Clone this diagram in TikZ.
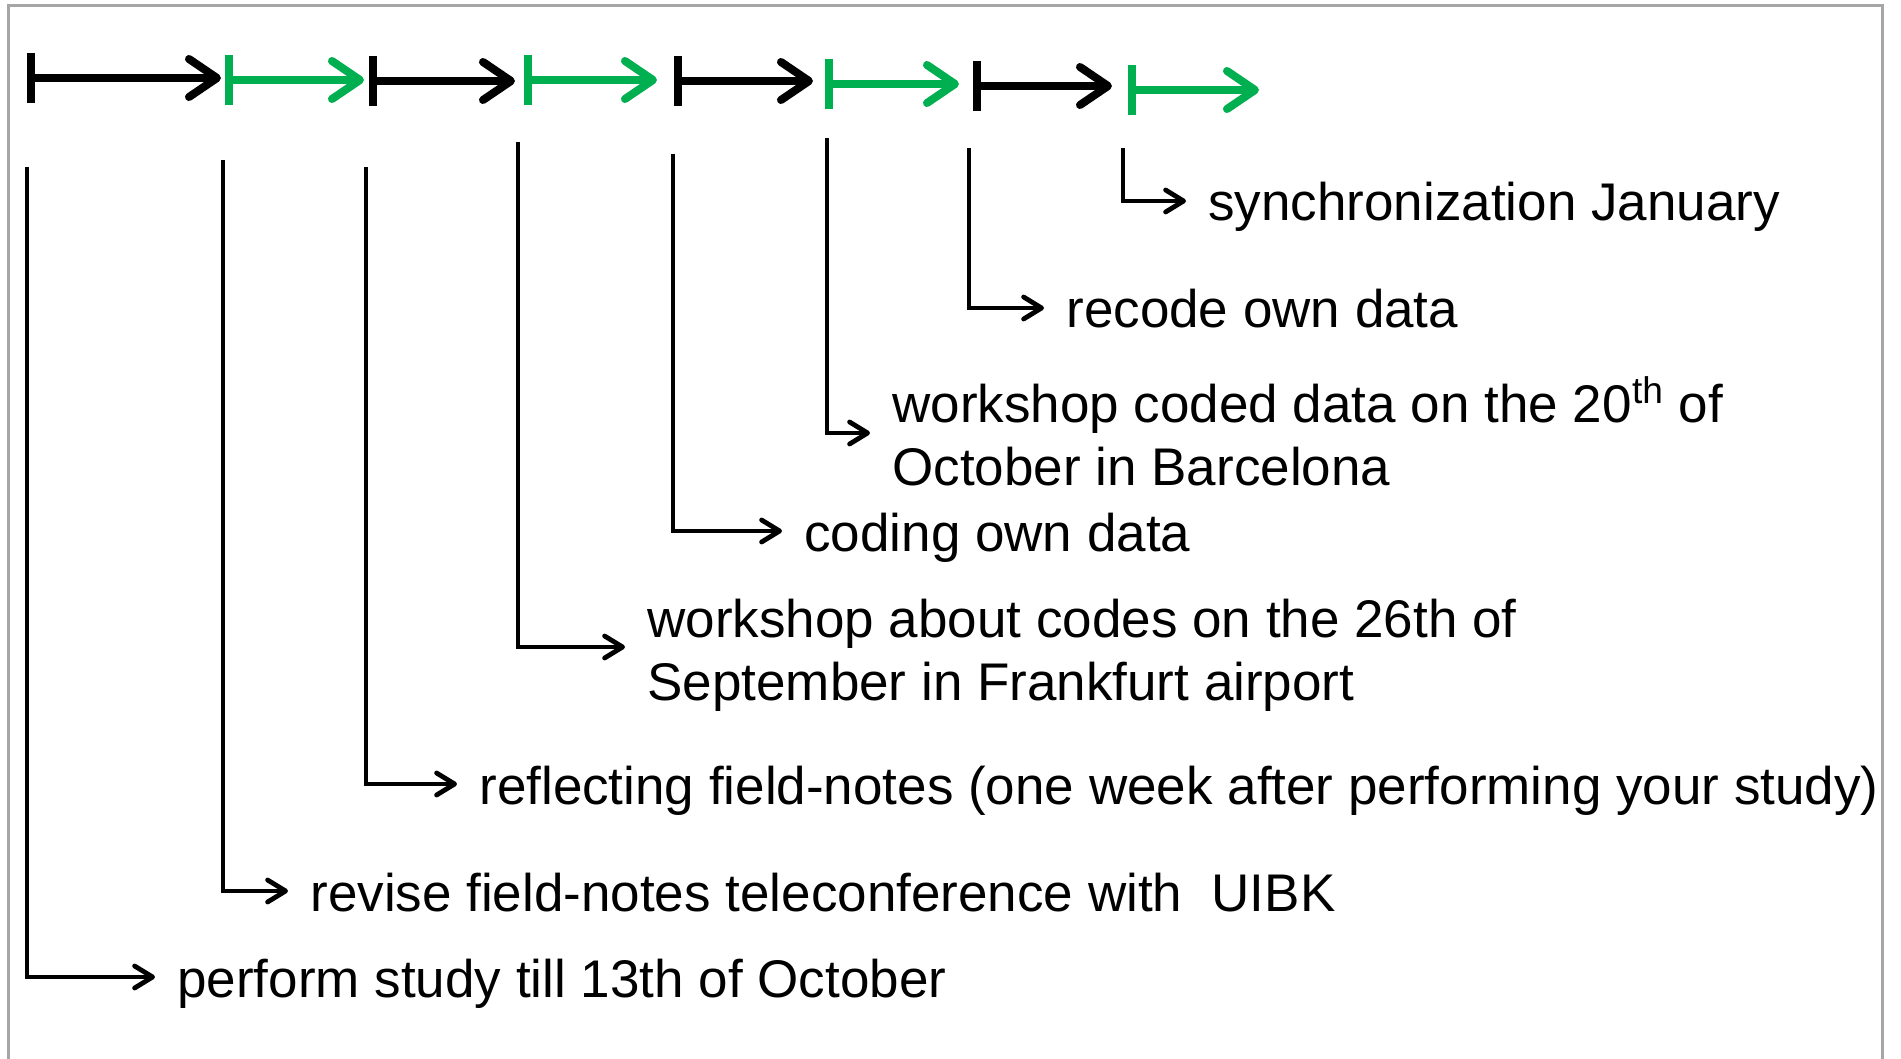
\documentclass[tikz,border=0pt]{standalone}
\usepackage{fontspec}
\setmainfont{Liberation Sans}
\usetikzlibrary{arrows.meta}
\definecolor{tlgreen}{HTML}{00B050}
\definecolor{framegray}{HTML}{A6A6A6}
\begin{document}
\begin{tikzpicture}[x=0.5pt,y=-0.5pt,
  seg/.style={line width=4pt, {Bar[width=25pt]}-{Straight Barb[length=14pt,width=19pt,round]}},
  blackseg/.style={seg, draw=black},
  greenseg/.style={seg, draw=tlgreen},
  conn/.style={line width=2.4pt, -{Straight Barb[length=9pt,width=11pt,round]}},
  lbl/.style={anchor=base west, inner sep=0pt, font=\fontsize{26.5pt}{31.5pt}\selectfont, align=left},
]
\useasboundingbox (0,0) rectangle (1901,1059);
\draw[framegray, line width=1.5pt] (8,1062) -- (8,6) -- (1882,6) -- (1882,1062);

% timeline segments
\coordinate (s1) at (27,78);   \coordinate (e1) at (221,78);
\coordinate (s2) at (225,80);  \coordinate (e2) at (364,80);
\coordinate (s3) at (369,81);  \coordinate (e3) at (515,81);
\coordinate (s4) at (524,80);  \coordinate (e4) at (657,80);
\coordinate (s5) at (674,81);  \coordinate (e5) at (813,81);
\coordinate (s6) at (825,84);  \coordinate (e6) at (959,84);
\coordinate (s7) at (973,86);  \coordinate (e7) at (1112,86);
\coordinate (s8) at (1128,90); \coordinate (e8) at (1259,90);
\draw[blackseg] (s1) -- (e1);
\draw[greenseg] (s2) -- (e2);
\draw[blackseg] (s3) -- (e3);
\draw[greenseg] (s4) -- (e4);
\draw[blackseg] (s5) -- (e5);
\draw[greenseg] (s6) -- (e6);
\draw[blackseg] (s7) -- (e7);
\draw[greenseg] (s8) -- (e8);

% labels (base = baseline of the last line)
\node[lbl] (t1) at (177,997) {perform study till 13th of October};
\node[lbl] (t2) at (310,911) {revise field-notes teleconference with\ \ UIBK};
\node[lbl] (t3) at (479,804) {reflecting field-notes (one week after performing your study)};
\node[lbl] (t4) at (647,700) {workshop about codes on the 26th of\\September in Frankfurt airport};
\node[lbl] (t5) at (804,551) {coding own data};
\node[lbl] (t6) at (892,485) {workshop coded data on the 20\textsuperscript{th} of\\October in Barcelona};
\node[lbl] (t7) at (1066,328) {recode own data};
\node[lbl] (t8) at (1208,221) {synchronization January};

% connector starts
\coordinate (c1) at (27,167);
\coordinate (c2) at (223,160);
\coordinate (c3) at (366,167);
\coordinate (c4) at (518,142);
\coordinate (c5) at (673,154);
\coordinate (c6) at (827,138);
\coordinate (c7) at (969,148);
\coordinate (c8) at (1123,148);

\draw[conn] (c1) |- ([xshift=-11pt,yshift=10pt]t1.base west);
\draw[conn] (c2) |- ([xshift=-11pt,yshift=10pt]t2.base west);
\draw[conn] (c3) |- ([xshift=-11pt,yshift=10pt]t3.base west);
\draw[conn] (c4) |- ([xshift=-11pt,yshift=26.5pt]t4.base west);
\draw[conn] (c5) |- ([xshift=-11pt,yshift=10pt]t5.base west);
\draw[conn] (c6) |- ([xshift=-11pt,yshift=26pt]t6.base west);
\draw[conn] (c7) |- ([xshift=-11pt,yshift=10pt]t7.base west);
\draw[conn] (c8) |- ([xshift=-11pt,yshift=10pt]t8.base west);
\end{tikzpicture}
\end{document}
